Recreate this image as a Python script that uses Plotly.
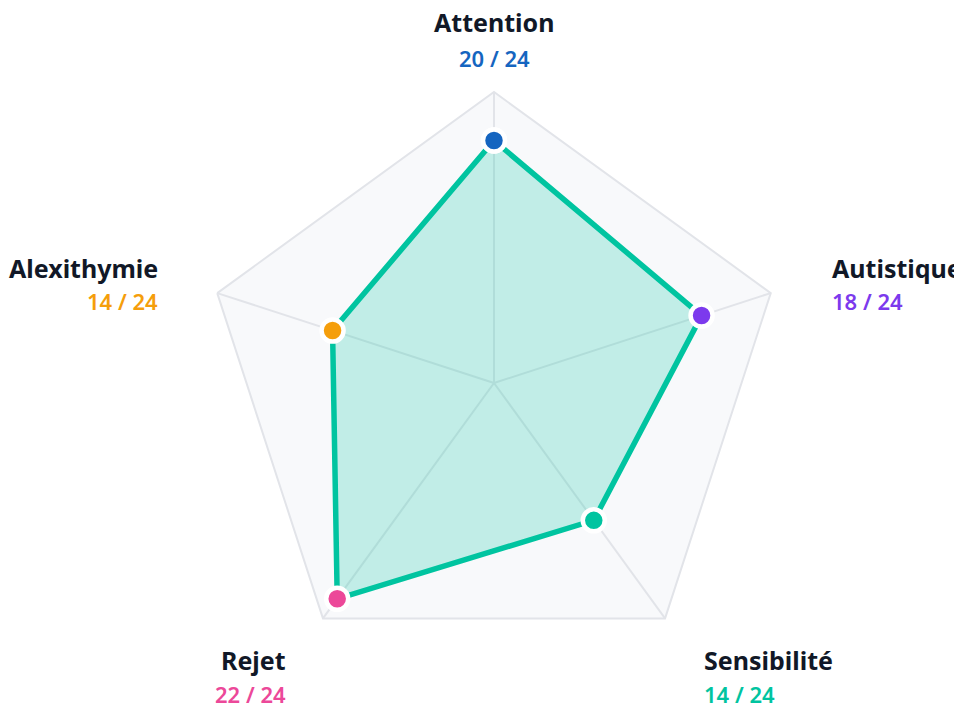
import plotly.graph_objects as go

categories = ["Attention", "Autistique", "Sensibilité", "Rejet", "Alexithymie"]
scores = [20, 18, 14, 22, 14]
max_score = 24
point_colors = ["#1565c0", "#7c3aed", "#00c4a0", "#ec4899", "#f59e0b"]

W, H = 954, 706
# label layout in page px: (x, name y, score y, xanchor)
label_layout = [
    (494, 22, 58, "center"),
    (830, 268, 301, "left"),
    (702, 660, 694, "left"),
    (288, 660, 694, "right"),
    (160, 268, 301, "right"),
]


def px_x(v):
    return v / W


def px_y(v):
    return 1 - v / H


fig = go.Figure()
fig.add_trace(go.Scatterpolar(
    r=scores + scores[:1],
    theta=categories + categories[:1],
    mode="lines+markers",
    fill="toself",
    fillcolor="rgba(0,196,160,0.22)",
    line=dict(color="#00c4a0", width=5.5),
    marker=dict(size=22, color=point_colors + point_colors[:1],
                line=dict(color="white", width=4.5)),
    hoverinfo="skip",
    showlegend=False,
))

annotations = []
for cat, sc, col, (px, ny, sy, xa) in zip(categories, scores, point_colors, label_layout):
    annotations.append(dict(
        x=px_x(px), y=px_y(ny), xref="paper", yref="paper",
        text=cat, showarrow=False, xanchor=xa, yanchor="middle",
        font=dict(family="Noto Sans", size=25, color="#111827", weight=700),
    ))
    annotations.append(dict(
        x=px_x(px), y=px_y(sy), xref="paper", yref="paper",
        text=f"{sc} / {max_score}", showarrow=False, xanchor=xa, yanchor="middle",
        font=dict(family="Noto Sans", size=22, color=col, weight=600),
    ))

fig.update_layout(
    width=W, height=H,
    margin=dict(l=0, r=0, t=0, b=0),
    paper_bgcolor="white",
    font=dict(family="Noto Sans"),
    polar=dict(
        domain=dict(x=[px_x(203), px_x(785)], y=[px_y(674), px_y(92)]),
        bgcolor="#f8f9fb",
        gridshape="linear",
        radialaxis=dict(range=[0, max_score], visible=False, showgrid=False),
        angularaxis=dict(
            direction="clockwise", rotation=90,
            showticklabels=False, ticks="",
            showline=True, linecolor="#e2e4e9", linewidth=2,
            showgrid=True, gridcolor="#e2e4e9", gridwidth=2,
            layer="below traces",
        ),
    ),
    annotations=annotations,
)

fig.write_html(
    "out.html",
    config={"displayModeBar": False},
    post_script="document.body.style.margin='0';document.body.style.overflow='hidden';",
)
